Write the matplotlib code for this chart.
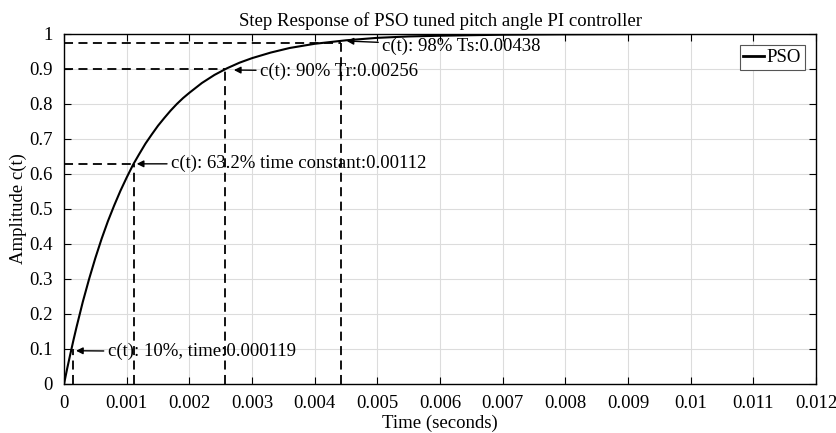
import matplotlib

matplotlib.use("Agg")

import matplotlib.pyplot as plt
from matplotlib.ticker import FormatStrFormatter, MultipleLocator

plt.rcParams["font.family"] = ["Liberation Serif", "DejaVu Serif"]

# step response
time_s = [0, 0.00005, 0.0001, 0.00015, 0.0002, 0.0003, 0.0004, 0.0005,
          0.0006, 0.0007, 0.0008, 0.0009, 0.001, 0.0011, 0.0012, 0.0013,
          0.0014, 0.0015, 0.0016, 0.0017, 0.0018, 0.0019, 0.002, 0.0022,
          0.0024, 0.0026, 0.0028, 0.003, 0.0033, 0.0036, 0.004, 0.0045,
          0.005, 0.0055, 0.006, 0.007, 0.008, 0.01, 0.012]
amplitude = [0, 0.044, 0.085, 0.125, 0.163, 0.235, 0.300, 0.360,
             0.415, 0.465, 0.510, 0.552, 0.590, 0.626, 0.657, 0.687,
             0.713, 0.738, 0.760, 0.781, 0.800, 0.817, 0.832, 0.860,
             0.883, 0.902, 0.918, 0.931, 0.947, 0.960, 0.972, 0.982,
             0.989, 0.993, 0.995, 0.998, 0.999, 1.0, 1.0]

# marker lines (time, level)
mark_t = [0.000139, 0.00112, 0.00257, 0.00442]
mark_y = [0.10, 0.629, 0.90, 0.975]
has_hline = [False, True, True, True]

# annotations: arrow tip, text start, label
note_xy = [(0.000191, 0.095), (0.00116, 0.629), (0.00271, 0.897), (0.00451, 0.98)]
note_text_xy = [(0.00070, 0.092), (0.00171, 0.629), (0.00313, 0.894), (0.00508, 0.966)]
note_labels = ["c(t): 10%, time:0.000119",
               "c(t): 63.2% time constant:0.00112",
               "c(t): 90% Tr:0.00256",
               "c(t): 98% Ts:0.00438"]

fs = 13.5

fig = plt.figure(figsize=(8.37, 4.33), dpi=100)
ax = fig.add_axes([0.0765, 0.1132, 0.8985, 0.8083])

ax.plot(time_s, amplitude, color="black", lw=1.5, label="PSO", zorder=3)

dash = (0, (5, 3))
for t, y, h in zip(mark_t, mark_y, has_hline):
    ax.plot([t, t], [0, y], color="black", lw=1.3, linestyle=dash, zorder=2)
    if h:
        ax.plot([0, t], [y, y], color="black", lw=1.3, linestyle=dash, zorder=2)

for xy, txy, lab in zip(note_xy, note_text_xy, note_labels):
    ax.annotate(lab, xy=xy, xytext=txy, fontsize=fs, ha="left", va="center",
                arrowprops=dict(arrowstyle="-|>", color="black", lw=1.0,
                                mutation_scale=10, shrinkA=1, shrinkB=0))

ax.set_xlim(0, 0.012)
ax.set_ylim(0, 1)
ax.xaxis.set_major_locator(MultipleLocator(0.001))
ax.yaxis.set_major_locator(MultipleLocator(0.1))
ax.xaxis.set_major_formatter(FormatStrFormatter("%g"))
ax.yaxis.set_major_formatter(FormatStrFormatter("%g"))
ax.tick_params(direction="in", top=True, right=True, labelsize=fs, length=5)
ax.tick_params(axis="x", pad=8)
ax.tick_params(axis="y", pad=8)
ax.grid(True, color="#dcdcdc", lw=0.8)
ax.set_axisbelow(True)
for s in ax.spines.values():
    s.set_linewidth(1.0)

ax.set_title("Step Response of PSO tuned pitch angle PI controller", fontsize=fs, pad=6)
ax.set_xlabel("Time (seconds)", fontsize=fs, labelpad=2)
ax.set_ylabel("Amplitude c(t)", fontsize=fs, labelpad=2)

leg = ax.legend(loc="upper right", fontsize=fs, handlelength=1.1, handletextpad=0.15,
                borderpad=0.2, borderaxespad=0.6, fancybox=False, framealpha=1)
leg.get_frame().set_edgecolor("#555555")
leg.get_frame().set_linewidth(0.8)
leg.get_lines()[0].set_linewidth(2.0)

fig.savefig("out.png", dpi=100)
